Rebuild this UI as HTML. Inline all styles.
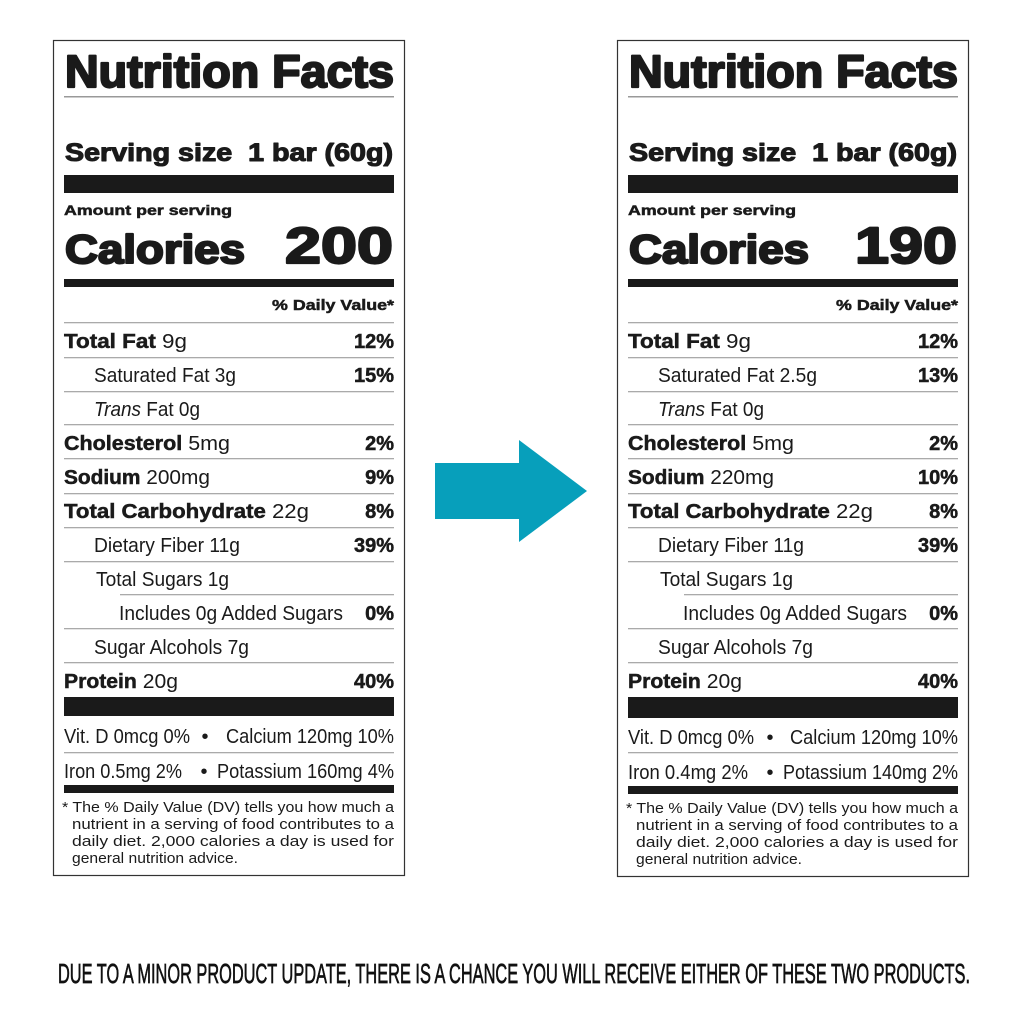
<!DOCTYPE html>
<html><head><meta charset="utf-8"><style>
html,body{margin:0;padding:0;background:#fff;width:1024px;height:1024px;overflow:hidden}
svg{display:block}
text{font-family:"Liberation Sans",Arial,sans-serif;fill:#1a1a1a}
.b{font-weight:bold;stroke:#1a1a1a;stroke-width:0.5}
.h{font-weight:bold;stroke:#1a1a1a;stroke-width:2.2;stroke-linejoin:round}
.h1{font-weight:bold;stroke:#1a1a1a;stroke-width:1.1;stroke-linejoin:round}
.r{font-size:20px}
.f{font-size:14.5px}
</style></head><body>
<svg width="1024" height="1024" viewBox="0 0 1024 1024" xmlns="http://www.w3.org/2000/svg">
<rect width="1024" height="1024" fill="#fff"/>

<!-- LEFT PANEL -->
<g>
<rect x="53.5" y="40.5" width="351" height="835" fill="none" stroke="#333" stroke-width="1.2"/>
<text x="65" y="87" class="h" font-size="45" textLength="329" lengthAdjust="spacingAndGlyphs">Nutrition Facts</text>
<rect x="64" y="96" width="330" height="1.5" fill="#999"/>
<text x="65" y="161" class="h1" font-size="25" textLength="328" lengthAdjust="spacingAndGlyphs">Serving size&#160;&#160;1 bar (60g)</text>
<rect x="64" y="175" width="330" height="18" fill="#1a1a1a"/>
<text x="64" y="215" class="b" font-size="14" textLength="168" lengthAdjust="spacingAndGlyphs">Amount per serving</text>
<text x="65" y="263" class="h" font-size="40" textLength="180" lengthAdjust="spacingAndGlyphs">Calories</text>
<text x="393" y="263" class="h" font-size="51" text-anchor="end" textLength="108" lengthAdjust="spacingAndGlyphs">200</text>
<rect x="64" y="279" width="330" height="8" fill="#1a1a1a"/>
<text x="394" y="310" class="b" font-size="15" text-anchor="end" textLength="122" lengthAdjust="spacingAndGlyphs">% Daily Value*</text>
<g fill="#aaa">
<rect x="64" y="322" width="330" height="1.3"/>
<rect x="64" y="357" width="330" height="1.3"/>
<rect x="64" y="391" width="330" height="1.3"/>
<rect x="64" y="424" width="330" height="1.3"/>
<rect x="64" y="458" width="330" height="1.3"/>
<rect x="64" y="493" width="330" height="1.3"/>
<rect x="64" y="527" width="330" height="1.3"/>
<rect x="64" y="561" width="330" height="1.3"/>
<rect x="120" y="594" width="274" height="1.3"/>
<rect x="64" y="628" width="330" height="1.3"/>
<rect x="64" y="662" width="330" height="1.3"/>
<rect x="64" y="752" width="330" height="1.3"/>
</g>
<text x="64" y="348" class="r" textLength="123" lengthAdjust="spacingAndGlyphs"><tspan class="b">Total Fat</tspan> 9g</text>
<text x="394" y="348" class="r b" text-anchor="end">12%</text>
<text x="94" y="382" class="r" textLength="142" lengthAdjust="spacingAndGlyphs">Saturated Fat 3g</text>
<text x="394" y="382" class="r b" text-anchor="end">15%</text>
<text x="94" y="416" class="r" textLength="106" lengthAdjust="spacingAndGlyphs"><tspan font-style="italic">Trans</tspan> Fat 0g</text>
<text x="64" y="450" class="r" textLength="166" lengthAdjust="spacingAndGlyphs"><tspan class="b">Cholesterol</tspan> 5mg</text>
<text x="394" y="450" class="r b" text-anchor="end">2%</text>
<text x="64" y="484" class="r" textLength="146" lengthAdjust="spacingAndGlyphs"><tspan class="b">Sodium</tspan> 200mg</text>
<text x="394" y="484" class="r b" text-anchor="end">9%</text>
<text x="64" y="518" class="r" textLength="245" lengthAdjust="spacingAndGlyphs"><tspan class="b">Total Carbohydrate</tspan> 22g</text>
<text x="394" y="518" class="r b" text-anchor="end">8%</text>
<text x="94" y="552" class="r" textLength="146" lengthAdjust="spacingAndGlyphs">Dietary Fiber 11g</text>
<text x="394" y="552" class="r b" text-anchor="end">39%</text>
<text x="96" y="586" class="r" textLength="133" lengthAdjust="spacingAndGlyphs">Total Sugars 1g</text>
<text x="119" y="620" class="r" textLength="224" lengthAdjust="spacingAndGlyphs">Includes 0g Added Sugars</text>
<text x="394" y="620" class="r b" text-anchor="end">0%</text>
<text x="94" y="654" class="r" textLength="155" lengthAdjust="spacingAndGlyphs">Sugar Alcohols 7g</text>
<text x="64" y="688" class="r" textLength="114" lengthAdjust="spacingAndGlyphs"><tspan class="b">Protein</tspan> 20g</text>
<text x="394" y="688" class="r b" text-anchor="end">40%</text>
<rect x="64" y="697" width="330" height="19" fill="#1a1a1a"/>
<text x="64" y="743" class="r" textLength="126" lengthAdjust="spacingAndGlyphs">Vit. D 0mcg 0%</text>
<text x="205" y="743" class="r" text-anchor="middle">•</text>
<text x="394" y="743" class="r" text-anchor="end" textLength="168" lengthAdjust="spacingAndGlyphs">Calcium 120mg 10%</text>
<text x="64" y="778" class="r" textLength="118" lengthAdjust="spacingAndGlyphs">Iron 0.5mg 2%</text>
<text x="204" y="778" class="r" text-anchor="middle">•</text>
<text x="394" y="778" class="r" text-anchor="end" textLength="177" lengthAdjust="spacingAndGlyphs">Potassium 160mg 4%</text>
<rect x="64" y="785" width="330" height="8" fill="#1a1a1a"/>
<text x="62" y="812" class="f" textLength="332" lengthAdjust="spacingAndGlyphs">* The % Daily Value (DV) tells you how much a</text>
<text x="72" y="829" class="f" textLength="322" lengthAdjust="spacingAndGlyphs">nutrient in a serving of food contributes to a</text>
<text x="72" y="846" class="f" textLength="322" lengthAdjust="spacingAndGlyphs">daily diet. 2,000 calories a day is used for</text>
<text x="72" y="863" class="f" textLength="166" lengthAdjust="spacingAndGlyphs">general nutrition advice.</text>
</g>

<!-- ARROW -->
<polygon points="435,463 519,463 519,440 587,491 519,542 519,519 435,519" fill="#079fbb"/>

<!-- RIGHT PANEL -->
<g transform="translate(564,0)">
<rect x="53.5" y="40.5" width="351" height="836" fill="none" stroke="#333" stroke-width="1.2"/>
<text x="65" y="87" class="h" font-size="45" textLength="329" lengthAdjust="spacingAndGlyphs">Nutrition Facts</text>
<rect x="64" y="96" width="330" height="1.5" fill="#999"/>
<text x="65" y="161" class="h1" font-size="25" textLength="328" lengthAdjust="spacingAndGlyphs">Serving size&#160;&#160;1 bar (60g)</text>
<rect x="64" y="175" width="330" height="18" fill="#1a1a1a"/>
<text x="64" y="215" class="b" font-size="14" textLength="168" lengthAdjust="spacingAndGlyphs">Amount per serving</text>
<text x="65" y="263" class="h" font-size="40" textLength="180" lengthAdjust="spacingAndGlyphs">Calories</text>
<text x="393" y="263" class="h" font-size="51" text-anchor="end" textLength="102" lengthAdjust="spacingAndGlyphs">190</text>
<rect x="64" y="279" width="330" height="8" fill="#1a1a1a"/>
<text x="394" y="310" class="b" font-size="15" text-anchor="end" textLength="122" lengthAdjust="spacingAndGlyphs">% Daily Value*</text>
<g fill="#aaa">
<rect x="64" y="322" width="330" height="1.3"/>
<rect x="64" y="357" width="330" height="1.3"/>
<rect x="64" y="391" width="330" height="1.3"/>
<rect x="64" y="424" width="330" height="1.3"/>
<rect x="64" y="458" width="330" height="1.3"/>
<rect x="64" y="493" width="330" height="1.3"/>
<rect x="64" y="527" width="330" height="1.3"/>
<rect x="64" y="561" width="330" height="1.3"/>
<rect x="120" y="594" width="274" height="1.3"/>
<rect x="64" y="628" width="330" height="1.3"/>
<rect x="64" y="662" width="330" height="1.3"/>
<rect x="64" y="752" width="330" height="1.3"/>
</g>
<text x="64" y="348" class="r" textLength="123" lengthAdjust="spacingAndGlyphs"><tspan class="b">Total Fat</tspan> 9g</text>
<text x="394" y="348" class="r b" text-anchor="end">12%</text>
<text x="94" y="382" class="r" textLength="159" lengthAdjust="spacingAndGlyphs">Saturated Fat 2.5g</text>
<text x="394" y="382" class="r b" text-anchor="end">13%</text>
<text x="94" y="416" class="r" textLength="106" lengthAdjust="spacingAndGlyphs"><tspan font-style="italic">Trans</tspan> Fat 0g</text>
<text x="64" y="450" class="r" textLength="166" lengthAdjust="spacingAndGlyphs"><tspan class="b">Cholesterol</tspan> 5mg</text>
<text x="394" y="450" class="r b" text-anchor="end">2%</text>
<text x="64" y="484" class="r" textLength="146" lengthAdjust="spacingAndGlyphs"><tspan class="b">Sodium</tspan> 220mg</text>
<text x="394" y="484" class="r b" text-anchor="end">10%</text>
<text x="64" y="518" class="r" textLength="245" lengthAdjust="spacingAndGlyphs"><tspan class="b">Total Carbohydrate</tspan> 22g</text>
<text x="394" y="518" class="r b" text-anchor="end">8%</text>
<text x="94" y="552" class="r" textLength="146" lengthAdjust="spacingAndGlyphs">Dietary Fiber 11g</text>
<text x="394" y="552" class="r b" text-anchor="end">39%</text>
<text x="96" y="586" class="r" textLength="133" lengthAdjust="spacingAndGlyphs">Total Sugars 1g</text>
<text x="119" y="620" class="r" textLength="224" lengthAdjust="spacingAndGlyphs">Includes 0g Added Sugars</text>
<text x="394" y="620" class="r b" text-anchor="end">0%</text>
<text x="94" y="654" class="r" textLength="155" lengthAdjust="spacingAndGlyphs">Sugar Alcohols 7g</text>
<text x="64" y="688" class="r" textLength="114" lengthAdjust="spacingAndGlyphs"><tspan class="b">Protein</tspan> 20g</text>
<text x="394" y="688" class="r b" text-anchor="end">40%</text>
<rect x="64" y="697" width="330" height="21" fill="#1a1a1a"/>
<text x="64" y="744" class="r" textLength="126" lengthAdjust="spacingAndGlyphs">Vit. D 0mcg 0%</text>
<text x="206" y="744" class="r" text-anchor="middle">•</text>
<text x="394" y="744" class="r" text-anchor="end" textLength="168" lengthAdjust="spacingAndGlyphs">Calcium 120mg 10%</text>
<text x="64" y="779" class="r" textLength="120" lengthAdjust="spacingAndGlyphs">Iron 0.4mg 2%</text>
<text x="206" y="779" class="r" text-anchor="middle">•</text>
<text x="394" y="779" class="r" text-anchor="end" textLength="175" lengthAdjust="spacingAndGlyphs">Potassium 140mg 2%</text>
<rect x="64" y="786" width="330" height="8" fill="#1a1a1a"/>
<text x="62" y="813" class="f" textLength="332" lengthAdjust="spacingAndGlyphs">* The % Daily Value (DV) tells you how much a</text>
<text x="72" y="830" class="f" textLength="322" lengthAdjust="spacingAndGlyphs">nutrient in a serving of food contributes to a</text>
<text x="72" y="847" class="f" textLength="322" lengthAdjust="spacingAndGlyphs">daily diet. 2,000 calories a day is used for</text>
<text x="72" y="864" class="f" textLength="166" lengthAdjust="spacingAndGlyphs">general nutrition advice.</text>
</g>

<text x="58" y="983" font-size="28" textLength="912" lengthAdjust="spacingAndGlyphs" style="fill:#111;stroke:#111;stroke-width:0.7">DUE TO A MINOR PRODUCT UPDATE, THERE IS A CHANCE YOU WILL RECEIVE EITHER OF THESE TWO PRODUCTS.</text>
</svg>
</body></html>
